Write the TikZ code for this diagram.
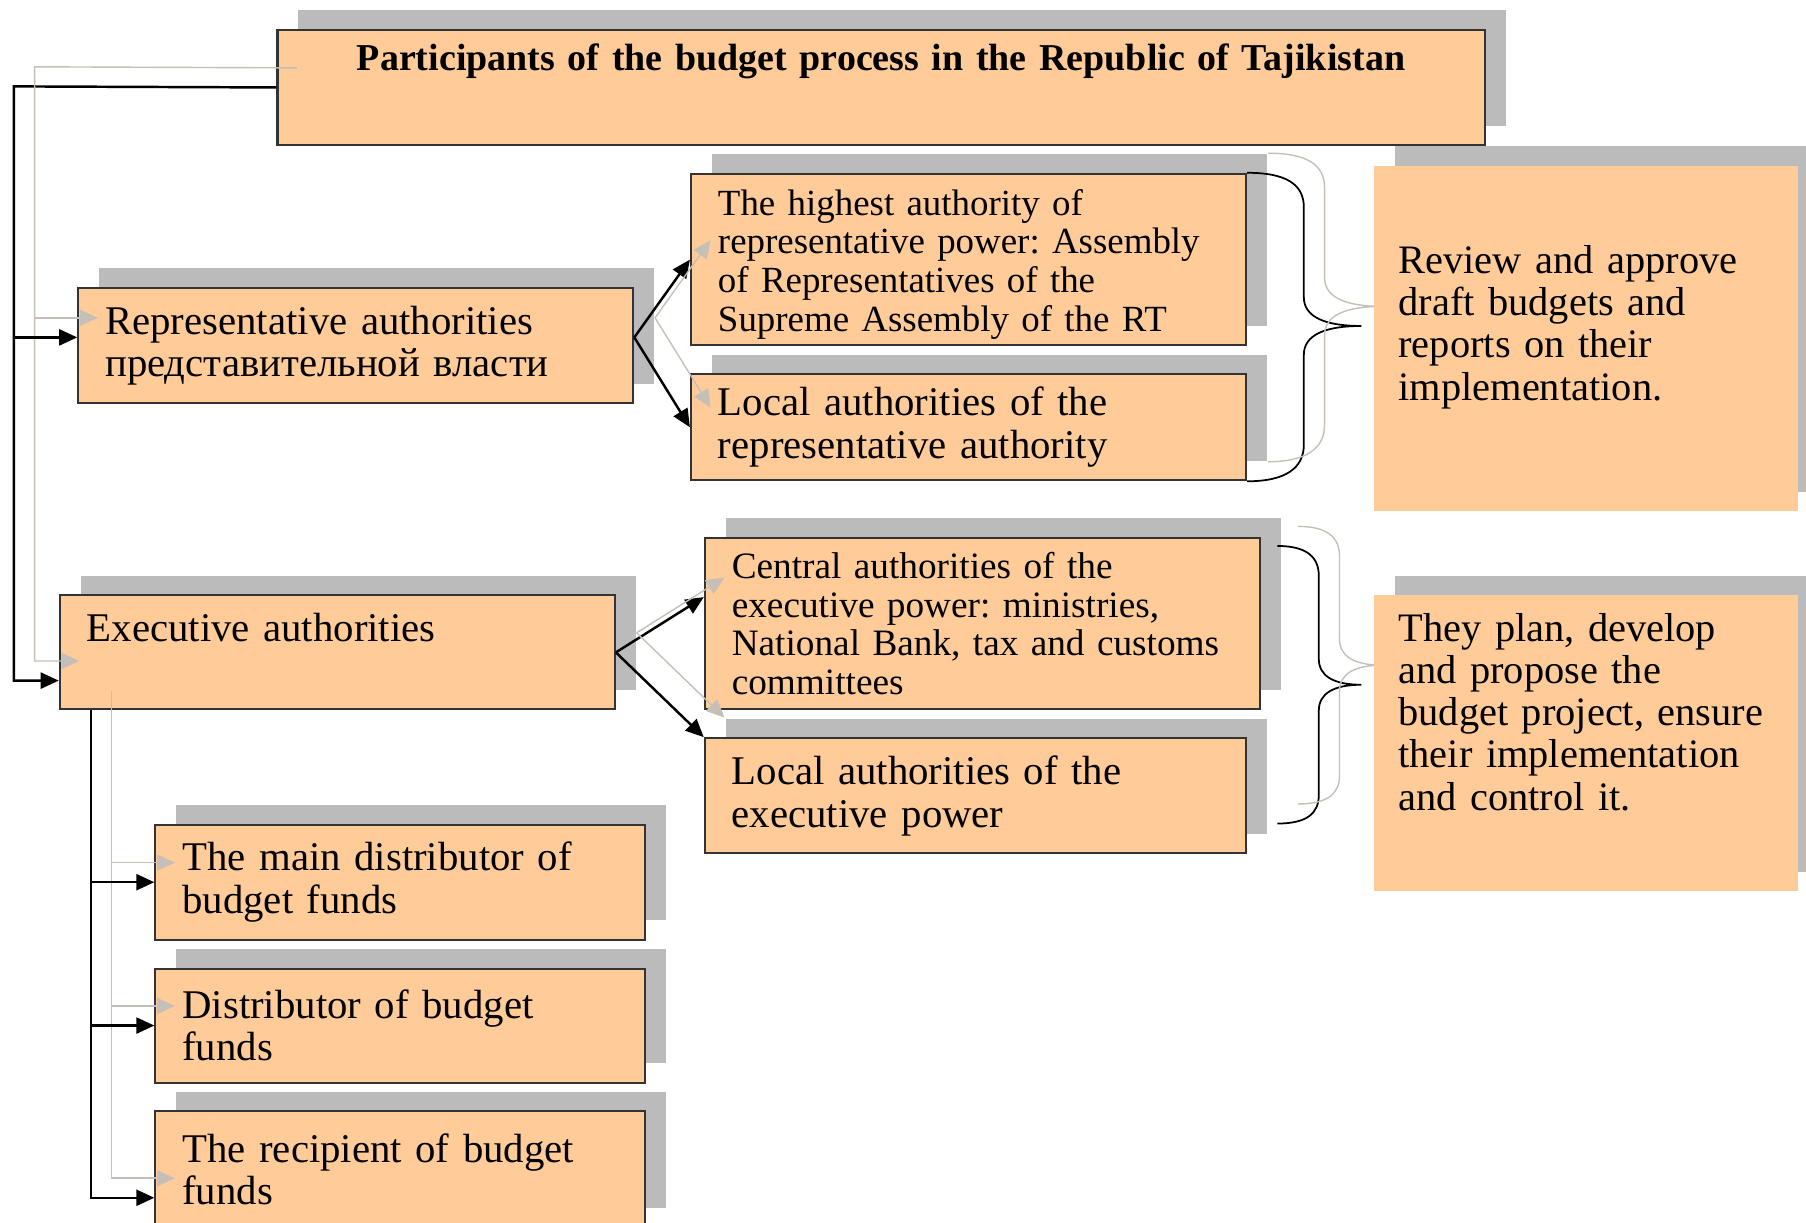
\documentclass[tikz,border=0pt]{standalone}
\usepackage{fontspec}
\setmainfont{Liberation Serif}
\usetikzlibrary{arrows.meta,shadows}
\frenchspacing
\hyphenpenalty=10000

\definecolor{peach}{HTML}{FFCC99}
\definecolor{shgray}{HTML}{BBBBBB}
\definecolor{ghost}{HTML}{C6BFB8}

\tikzset{
  box/.style={draw=black!80,line width=0.6pt,fill=peach,anchor=north west,align=left,
    inner xsep=2.7mm,inner ysep=0pt,
    drop shadow={shadow xshift=2.1mm,shadow yshift=1.95mm,fill=shgray,opacity=1},
    font=\fontsize{11.6}{12.1}\selectfont},
  note/.style={box,draw=none,inner xsep=2.45mm,text width=37.5mm,
    font=\fontsize{11.5}{12}\selectfont},
  conn/.style={draw=black,line width=0.7pt,
    postaction={draw=ghost,line width=0.4pt,transform canvas={shift={(18,17)}}}},
}

\begin{document}
\hyphenpenalty=10000
\begin{tikzpicture}[x=0.11518mm,y=0.11518mm,>={Triangle[length=1.8mm,width=1.6mm]}]
                \useasboundingbox (0,0) rectangle (1568,-1061);
                \node[box,text width=115.3mm,align=center,minimum height=11.52mm,font=\fontsize{10.8}{12.1}\selectfont\bfseries](title)at(240,-25){Participants of the budget process in the Republic of Tajikistan\\[5pt]\mbox{}};
                \node[box,text width=50.1mm,minimum height=11.52mm](rep)at(67,-249){Representative authorities\\представительной власти};
                \node[box,text width=50.1mm,minimum height=17.16mm,font=\fontsize{10.5}{11}\selectfont](hi)at(599,-150){\mbox{}\\[-1pt]The highest authority of\\representative power: Assembly\\of Representatives of the\\Supreme Assembly of the RT};
                \node[box,text width=50.1mm,minimum height=10.6mm](lr)at(599,-324){Local authorities of the\\representative authority};
                \node[box,text width=50.1mm,minimum height=11.4mm](exec)at(51,-516){Executive authorities\\[2pt]\mbox{}};
                \node[box,text width=50.1mm,minimum height=17.16mm,font=\fontsize{10.6}{11}\selectfont](ce)at(611,-466){Central authorities of the\\executive power: ministries,\\National Bank, tax and customs\\committees};
                \node[box,text width=48.7mm,minimum height=11.52mm](le)at(611,-640){Local authorities of the\\executive power};
                \node[box,text width=43.55mm,minimum height=11.52mm](md)at(134,-715){The main distributor of\\budget funds};
                \node[box,text width=43.55mm,minimum height=11.4mm](di)at(134,-840){Distributor of budget\\funds};
                \node[box,text width=43.55mm,minimum height=11.63mm](re)at(134,-964){The recipient of budget\\funds};
                \coordinate (trunk) at (12,-75);
                \coordinate (repin) at ([shift={(0,7)}]rep.west);
                \coordinate (exin) at ([shift={(0,-24.5)}]exec.west);
                \coordinate (cein) at ([shift={(0,23)}]ce.west);
                \coordinate (edown) at ([shift={(28,0)}]exec.south west);
                \coordinate (rein) at ([shift={(0,-24.5)}]re.west);
                \draw[conn,->] (title.west) -- (trunk) |- (exin);
                \draw[conn,->] (trunk |- repin) -- (repin);
                \draw[conn,->] (repin -| rep.east) -- (hi.west);
                \draw[conn,->] (repin -| rep.east) -- (lr.west);
                \draw[conn,->] (exec.east) -- (cein);
                \draw[conn,->] (exec.east) -- (le.north west);
                \draw[conn,->] (edown) |- (rein);
                \draw[conn,->] (edown |- md.west) -- (md.west);
                \draw[conn,->] (edown |- di.west) -- (di.west);
                \draw[conn,line width=0.5pt] (hi.north east) .. controls +(34,0) and +(0,20) .. (1132,-180) -- (1132,-258)
                  .. controls +(0,-17) and +(-32,0) .. (1182,-283) .. controls +(-32,0) and +(0,17) .. (1132,-308)
                  -- (1132,-386) .. controls +(0,-20) and +(34,0) .. (lr.south east);
                \draw[conn,line width=0.5pt] (1109,-474) .. controls +(26,0) and +(0,16) .. (1145,-500) -- (1145,-572)
                  .. controls +(0,-15) and +(-24,0) .. (1182,-594.5) .. controls +(-24,0) and +(0,15) .. (1145,-617)
                  -- (1145,-690) .. controls +(0,-16) and +(26,0) .. (1109,-715);
                \node[note,minimum height=34.55mm](rv)at(1192,-143){Review and approve\\draft budgets and\\reports on their\\implementation.\\[-3pt]\mbox{}};
                \node[note,minimum height=29.6mm](pl)at(1192,-516){They plan, develop\\and propose the\\budget project, ensure\\their implementation\\and control it.\\[6pt]\mbox{}};
            \end{tikzpicture}
\end{document}
